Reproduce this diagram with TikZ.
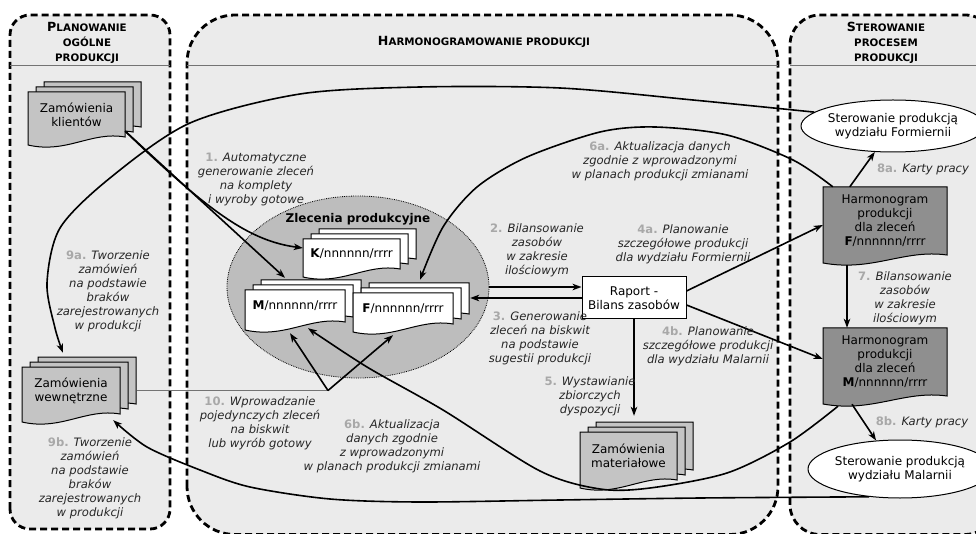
\documentclass[tikz,border=0pt]{standalone}
\usepackage{fontspec}
\setmainfont{DejaVu Sans}
\usetikzlibrary{arrows.meta,calc,shapes.geometric}

\definecolor{lanegray}{HTML}{EBEBEB}
\definecolor{zlecgray}{HTML}{BDBDBD}
\definecolor{docgray}{HTML}{C4C4C4}
\definecolor{harmgray}{HTML}{8F8F8F}
\definecolor{numgray}{HTML}{A8A8A8}
\definecolor{linegray}{HTML}{737373}

\newcommand{\stepno}[1]{{\upshape\bfseries\color{numgray}#1}}
\newcommand{\capt}[2]{{\fontsize{12.6}{15}\selectfont #1}#2}

% document page: fill, x, top, width, height
\newcommand{\docshape}[5]{%
  \draw[docline, fill=#1] (#2,#3) -- ({#2+#4},#3) -- ({#2+#4},{#3-#5+8})
    .. controls ({#2+0.65*#4},{#3-#5+14}) and ({#2+0.4*#4},{#3-#5-9}) .. (#2,{#3-#5}) -- cycle;
}
% stack of pages: name, fill, layers, x, top, width, height, text
\newcommand{\docstack}[8]{%
  \foreach \k in {#3} {\docshape{#2}{#4+8*\k}{#5+5*\k}{#6}{#7}}
  \node[doctext, minimum width=#6pt, minimum height={(#7-8)*1pt}] (#1) at ({#4+#6/2},{#5-(#7-8)/2}) {#8};
}

\tikzset{
  lane/.style={draw=black, fill=lanegray, line width=2.8pt, dash pattern=on 7pt off 4pt},
  sep/.style={draw=linegray, line width=0.8pt},
  docline/.style={draw=black, line width=1pt},
  doctext/.style={font=\fontsize{12}{14}\selectfont, align=center, inner sep=0pt},
  arr/.style={line width=1.6pt, -{Stealth[length=9pt,width=6.5pt,inset=2.5pt]}},
  lbl/.style={font=\fontsize{11.6}{14}\selectfont\itshape, align=center, text=black!85, inner sep=1pt},
  title/.style={font=\fontsize{10.3}{15}\selectfont\bfseries, align=center, inner sep=0pt},
  sterbox/.style={ellipse, draw=black, line width=1pt, fill=white, inner sep=0pt,
    font=\fontsize{12}{14}\selectfont, align=center},
}

\begin{document}
\begin{tikzpicture}[x=1pt, y=1pt]
\useasboundingbox (0,0) rectangle (976,533);

% swimlanes
\draw[lane, rounded corners=20] (10,4) rectangle (170,518);
\draw[lane, rounded corners=48] (187,-1.5) rectangle (778,518);
\draw[lane, rounded corners=30] (790,-1.5) rectangle (995,518);
\foreach \a/\b in {10/170, 187/778, 790/976}
  \draw[sep] (\a,468) -- (\b,468);

\node[title] (tPlan) at (87,490) {\capt{P}{LANOWANIE}\\OGÓLNE\\PRODUKCJI};
\node[title] (tHarm) at (484,491) {\capt{H}{ARMONOGRAMOWANIE PRODUKCJI}};
\node[title] (tSter) at (886,490) {\capt{S}{TEROWANIE}\\PROCESEM\\PRODUKCJI};

% production orders
\node[ellipse, draw=black, densely dotted, line width=0.8pt, fill=zlecgray,
  minimum width=262pt, minimum height=182pt] (zlec) at (358,246) {};
\node[font=\fontsize{12}{14}\selectfont\bfseries] (zlecT) at (358,314) {Zlecenia produkcyjne};

\coordinate (j10) at (328,142.5);
\draw[sep, line width=1pt] (137,142.5) -- (j10);

% documents
\docstack{klienci}{docgray}{2,1,0}{28}{441}{97}{53}{Zamówienia\\klientów}
\docstack{wewn}{docgray}{2,1,0}{22}{166}{98}{55}{Zamówienia\\wewnętrzne}
\docstack{K}{white}{2,1,0}{303}{294}{97}{38}{\textbf{K}/nnnnnn/rrrr}
\docstack{M}{white}{2,1,0}{245}{243}{100}{40}{\textbf{M}/nnnnnn/rrrr}
\docstack{F}{white}{2,1,0}{353}{240}{100}{39}{\textbf{F}/nnnnnn/rrrr}
\docstack{mat}{docgray}{2,1,0}{580}{101}{97}{56}{Zamówienia\\materiałowe}
\docstack{harmF}{harmgray}{0}{823}{346}{124}{76}{Harmonogram\\produkcji\\dla zleceń\\\textbf{F}/nnnnnn/rrrr}
\docstack{harmM}{harmgray}{0}{823}{205}{124}{76}{Harmonogram\\produkcji\\dla zleceń\\\textbf{M}/nnnnnn/rrrr}

\node[draw=black, line width=1pt, fill=white, doctext, minimum width=104pt, minimum height=42pt]
  (raport) at (634,235) {Raport -\\Bilans zasobów};
\node[sterbox, minimum width=148pt, minimum height=52pt] (sterF) at (893,407) {Sterowanie produkcją\\wydziału Formiernii};
\node[sterbox, minimum width=150pt, minimum height=58pt] (sterM) at (900,64) {Sterowanie produkcją\\wydziału Malarnii};

% connectors
\coordinate (Fr) at ($(F.east)+(17,0)$);
\coordinate (matTop) at ($(mat.north)+(0,16)$);
\draw[arr] ([yshift=6pt]klienci.south east) -- ($(M.north)+(-10,12)$);
\draw[arr] ([yshift=6pt]klienci.south east) .. controls (210,320) and (250,292) .. ([yshift=6pt]K.west);
\draw[arr] (zlec.east) -- (zlec.east -| raport.west);
\draw[arr] (raport.west) -- (raport.west -| Fr);
\draw[arr] ([yshift=7pt]raport.east) -- ([yshift=-4pt]harmF.west);
\draw[arr] ([yshift=-7pt]raport.east) -- ([yshift=3pt]harmM.west);
\draw[arr] (raport.south) -- (raport.south |- matTop);
\draw[arr] ([xshift=-38pt,yshift=-10pt]harmF.south) -- ([xshift=-38pt]harmM.north);
\draw[arr] ([xshift=27pt]harmF.north west) -- (sterF.235);
\draw[arr] ($(harmM.south)+(-33,-8)$) -- (sterM.130);
\draw[arr] (j10) -- ($(M.south)+(-5,-11)$);
\draw[arr] (j10) -- ($(F.south)+(-10,-11)$);

\draw[arr] plot[smooth] coordinates {(sterF.170) (693,433) (560,445) (420,446) (300,439)
  (190,410) (110,355) (60,305) (47,250) (55,205) ($(wewn.north)+(-8,14)$)};
\draw[arr] plot[smooth] coordinates {([xshift=10pt]harmF.north west) (793,373) (727,398)
  (655,406) (600,401) (527,376) (477,346) (443,306) ($(F.north)+(17,13)$)};
\draw[arr] plot[smooth] coordinates {($(harmM.south)+(-47,-10)$) (790,91) (727,60)
  (650,45) (600,44) (540,62) (443,123) (367,166) ($(M.south)+(13,-6)$)};
\draw[arr] plot[smooth] coordinates {(sterM.222) (700,35) (560,33) (420,31) (330,34)
  (250,46) (200,63) (147,86) ($(wewn.south east)+(-7,-6)$)};

% step labels
\node[lbl] (lbl1) at (256,354) {\stepno{1.} Automatyczne\\generowanie zleceń\\na komplety\\i wyroby gotowe};
\node[lbl] (lbl2) at (537,283) {\stepno{2.} Bilansowanie\\zasobów\\w zakresie\\ilościowym};
\node[lbl] (lbl3) at (540,195) {\stepno{3.} Generowanie\\zleceń na biskwit\\na podstawie\\sugestii produkcji};
\node[lbl] (lbl4a) at (683,289) {\stepno{4a.} Planowanie\\szczegółowe produkcji\\dla wydziału Formiernii};
\node[lbl] (lbl4b) at (708,187) {\stepno{4b.} Planowanie\\szczegółowe produkcji\\dla wydziału Malarnii};
\node[lbl] (lbl5) at (590,137) {\stepno{5.} Wystawianie\\zbiorczych\\dyspozycji};
\node[lbl] (lbl6a) at (660,372) {\stepno{6a.} Aktualizacja danych\\zgodnie z wprowadzonymi\\w planach produkcji zmianami};
\node[lbl] (lbl6b) at (392,87) {\stepno{6b.} Aktualizacja\\danych zgodnie\\z wprowadzonymi\\w planach produkcji zmianami};
\node[lbl] (lbl7) at (905,235) {\stepno{7.} Bilansowanie\\zasobów\\w zakresie\\ilościowym};
\node[lbl] (lbl8a) at (923,364) {\stepno{8a.} Karty pracy};
\node[lbl] (lbl8b) at (922,111) {\stepno{8b.} Karty pracy};
\node[lbl] (lbl9a) at (108,242) {\stepno{9a.} Tworzenie\\zamówień\\na podstawie\\braków\\zarejestrowanych\\w produkcji};
\node[lbl] (lbl9b) at (90,55) {\stepno{9b.} Tworzenie\\zamówień\\na podstawie\\braków\\zarejestrowanych\\w produkcji};
\node[lbl] (lbl10) at (260,110) {\stepno{10.} Wprowadzanie\\pojedynczych zleceń\\na biskwit\\lub wyrób gotowy};
\end{tikzpicture}
\end{document}
